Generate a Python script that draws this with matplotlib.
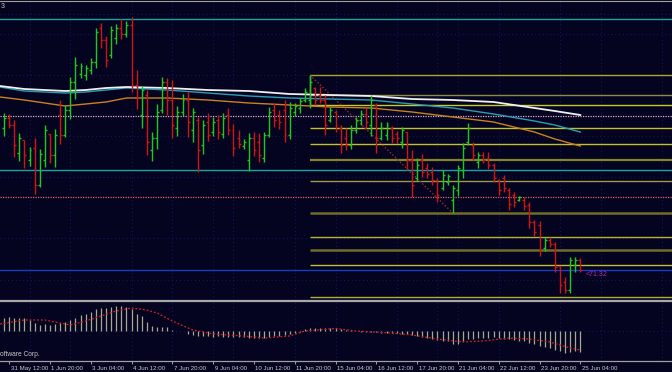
"""
H4 bar chart with moving averages, fibo levels and an oscillator window below.
"""

import matplotlib.pyplot as plt
from matplotlib.lines import Line2D
from matplotlib.transforms import ScaledTranslation

# ============================================================
# DATA (prices in chart points, bar index on x)
# ============================================================
OPEN = [272, 282, 275, 247, 260, 240, 252, 215, 240, 266,
        245, 285, 265, 290, 318, 326, 325, 330, 338, 372,
        360, 345, 362, 372, 366, 375, 315, 285, 305, 250,
        262, 290, 318, 300, 272, 288, 300, 270, 280, 255,
        278, 268, 280, 266, 285, 270, 262, 254, 240, 262,
        258, 242, 265, 290, 285, 290, 265, 288, 292, 300,
        300, 312, 305, 300, 280, 288, 272, 262, 255, 270,
        280, 286, 275, 295, 262, 265, 272, 266, 258, 268,
        240, 222, 240, 232, 228, 220, 212, 218, 200, 210,
        230, 258, 255, 238, 245, 242, 235, 220, 222, 210,
        205, 200, 200, 195, 178, 175, 152, 160, 156, 134,
        118, 110, 135, 140]
HIGH = [287, 286, 280, 267, 260, 253, 262, 251, 275, 266,
        271, 300, 295, 323, 343, 337, 335, 342, 372, 377,
        364, 374, 376, 381, 379, 383, 330, 314, 310, 268,
        296, 323, 322, 320, 294, 306, 308, 292, 283, 280,
        287, 283, 285, 287, 292, 276, 270, 261, 267, 268,
        267, 268, 293, 297, 290, 300, 298, 297, 302, 312,
        325, 313, 313, 305, 293, 290, 275, 272, 275, 283,
        290, 292, 305, 297, 278, 278, 274, 269, 273, 268,
        250, 242, 246, 237, 233, 222, 230, 226, 215, 235,
        257, 277, 258, 248, 248, 248, 237, 221, 225, 212,
        208, 204, 203, 198, 180, 179, 163, 163, 158, 134,
        123, 143, 143, 142]
LOW = [264, 272, 243, 239, 232, 234, 206, 213, 233, 237,
       233, 256, 263, 281, 301, 322, 320, 326, 332, 352,
       333, 342, 356, 361, 363, 308, 291, 272, 245, 239,
       251, 287, 285, 262, 264, 284, 263, 258, 228, 246,
       259, 264, 261, 262, 265, 244, 252, 251, 229, 244,
       238, 238, 263, 273, 271, 258, 261, 284, 287, 298,
       292, 295, 297, 265, 278, 268, 247, 250, 251, 267,
       275, 272, 264, 247, 260, 260, 257, 257, 252, 230,
       203, 219, 223, 222, 215, 198, 210, 215, 187, 204,
       222, 255, 240, 232, 237, 231, 218, 205, 208, 190,
       193, 199, 190, 172, 164, 144, 149, 153, 128, 107,
       107, 107, 128, 128]
CLOSE = [282, 275, 255, 262, 245, 250, 215, 246, 270, 245,
         265, 265, 290, 318, 335, 334, 332, 338, 368, 360,
         340, 370, 372, 366, 375, 315, 302, 310, 258, 262,
         288, 318, 300, 275, 288, 300, 278, 288, 250, 275,
         265, 278, 268, 282, 270, 252, 256, 258, 262, 250,
         245, 265, 288, 280, 278, 265, 292, 294, 299, 308,
         318, 300, 300, 275, 290, 275, 255, 255, 270, 280,
         286, 278, 300, 262, 272, 275, 262, 262, 270, 240,
         215, 235, 228, 226, 220, 205, 225, 224, 212, 232,
         252, 272, 245, 245, 240, 235, 222, 210, 212, 196,
         198, 203, 194, 178, 168, 150, 160, 156, 133, 115,
         110, 140, 140, 130]

# moving averages, read at a few bars
MA_X = [-0.8, 4, 8, 12, 16, 20, 24, 32, 40, 48, 56, 64, 72, 80, 88, 96, 104, 108, 113]
MA_WHITE = [314, 311, 310, 309, 310, 312, 313, 312, 310, 309, 306, 305, 304, 301, 300, 298, 292, 289, 285]
MA_CYAN = [313, 309, 308, 307, 308, 310, 312, 310, 307, 304, 302, 301, 300, 296, 292, 286, 279, 275, 268]
MA_ORANGE = [303, 300, 297, 294, 296, 298, 302, 302, 300, 297, 295, 293, 292, 288, 283, 278, 268, 261, 254]

# full width horizontal lines
LEVEL_TOP = 399.3
LEVEL_TEAL = [381.5, 230]
LEVEL_PINK_DOT = 284
LEVEL_RED_DOT = 203
LEVEL_BLUE = 130

# fibo tool: anchors and levels
FIB_J = [60, 88]
FIB_P = [325, 187]
FIB_LEVELS = [325, 305, 295, 272, 256, 240, 219, 187, 163, 150, 135, 103]

# oscillator
HIST = [13, 14, 12.6, 13, 13, 10.6, 8, 6.5, 7, 6.5,
        7, 8, 9, 11, 13, 16, 17, 19.5, 22, 23,
        23.5, 24, 25, 25, 24, 22, 17, 15, 9.5, 5,
        4.5, 4.5, 4.5, 1.5, 0.5, 0.5, -2.5, -4, -5, -5,
        -5, -6, -5, -6, -6, -6, -6, -6, -6.7, -7,
        -7, -7, -6, -5, -5, -4, -3, -2, -0.5, 2.5,
        3, 3, 3.5, 3, 3, 3, 2, 1.5, 1, 0.5,
        -0.5, -0.5, -1, -1, -1.5, -1.5, -2, -2, -2.5, -3,
        -3.5, -4.5, -6, -7, -8, -9, -10, -10, -13, -13,
        -10, -8, -8, -7, -7, -7, -6, -7, -8, -8,
        -9, -10, -10, -12, -13, -15, -16, -17, -19, -20,
        -22, -21, -20, -21]
SIG_X = [-0.8, 4, 8, 11, 13, 16, 19, 22, 25, 28, 30, 33, 37, 41, 47,
         51, 56, 59, 65, 69, 76, 80, 85, 90, 94, 99, 103, 107, 111, 113]
SIG_V = [7, 11, 11, 8, 6, 10, 15, 20, 23, 21, 18, 10, 1, -3, -5,
         -7, -5, 0, 2.5, 0, -2, -4, -8, -11, -10, -7, -8, -11, -17, -19]

TICK_J = [1, 9, 17, 25, 33, 41, 49, 57, 65, 73, 81, 89, 97, 105, 113]
TICK_LABELS = ["31 May 12:00", "1 Jun 20:00", "3 Jun 04:00", "4 Jun 12:00",
               "7 Jun 20:00", "9 Jun 04:00", "10 Jun 12:00", "11 Jun 20:00",
               "15 Jun 04:00", "16 Jun 12:00", "17 Jun 20:00", "21 Jun 04:00",
               "22 Jun 12:00", "23 Jun 20:00", "25 Jun 04:00"]

GRID_J = [5, 13, 25, 33, 41, 45, 57, 65, 77, 85, 89, 97, 109, 117, 129]
GRID_P = [386, 366, 325, 264, 223, 162, 120]

# ============================================================
# STYLE
# ============================================================
W, H = 672, 372
BG = "#040420"
GRID = "#1a2490"
UP = "#1ec81e"
DOWN = "#d01414"
TXT = "#c8c8c8"
BAR_PX = 5.1
XMIN = -4 / BAR_PX
XMAX = (W - 4) / BAR_PX

FIB_STYLE = [
    ("#a8a830", 1.0), ("#8c8c48", 1.0), ("#c8c830", 1.0), ("#c0c030", 1.0),
    ("#c0c030", 1.0), ("#84842a", 1.6), ("#9a9a48", 1.0), ("#6e6e28", 1.8),
    ("#b4b430", 1.0), ("#6e6e28", 1.8), ("#c0c030", 1.0), ("#b0b030", 1.0),
]

plt.rcParams["font.family"] = "Liberation Sans"


def fig_y(px):
    return 1 - px / H


def draw_grid(ax, hlevels):
    for j in GRID_J:
        ax.axvline(j, color=GRID, lw=0.55, ls=(0, (1, 4)), zorder=0)
    for p in hlevels:
        ax.axhline(p, color=GRID, lw=0.55, ls=(0, (1, 4)), zorder=0)


def main():
    fig = plt.figure(figsize=(W / 100, H / 100), dpi=100, facecolor=BG)

    # ---------------- price window ----------------
    ax = fig.add_axes([0, 1 - 300 / H, 1, 300 / H])
    ax.set_facecolor(BG)
    ax.set_xlim(XMIN, XMAX)
    ax.set_ylim(100, 400)
    ax.set_xticks([])
    ax.set_yticks([])
    for s in ax.spines.values():
        s.set_visible(False)

    draw_grid(ax, GRID_P)

    ax.axhline(LEVEL_TOP, color="#a0a0a0", lw=0.8, zorder=1)
    for p in LEVEL_TEAL:
        ax.axhline(p, color="#19a4a4", lw=1.0, zorder=1)
    ax.axhline(LEVEL_PINK_DOT, color="#e0a8d0", lw=0.9, ls=(0, (1, 1)), zorder=1)
    ax.axhline(LEVEL_RED_DOT, color="#e05c6c", lw=0.9, ls=(0, (1, 1)), zorder=1)
    ax.axhline(LEVEL_BLUE, color="#1a3cc0", lw=1.0, zorder=1)

    # fibo
    for p, (c, lw) in zip(FIB_LEVELS, FIB_STYLE):
        ax.hlines(p, FIB_J[0], XMAX, color=c, lw=lw, zorder=1)
    ax.vlines(FIB_J[0], FIB_LEVELS[2], FIB_LEVELS[0], color="#a8a830", lw=1.0, zorder=1)
    ax.plot(FIB_J, FIB_P, color="#a02828", lw=1.0, ls=(0, (1, 1.5)), zorder=2)

    # moving averages
    ax.plot(MA_X, MA_ORANGE, color="#c8821e", lw=1.0, zorder=3)
    ax.plot(MA_X, MA_CYAN, color="#2a9fb4", lw=1.0, zorder=3)
    ax.plot(MA_X, MA_WHITE, color="#f0f0f0", lw=1.3, zorder=4)

    # OHLC bars
    for j, (o, h, l, c) in enumerate(zip(OPEN, HIGH, LOW, CLOSE)):
        col = UP if c >= o else DOWN
        ax.vlines(j, l, h, color=col, lw=1.0, zorder=5)
        ax.hlines(o, j - 0.38, j, color=col, lw=1.0, zorder=5)
        ax.hlines(c, j, j + 0.38, color=col, lw=1.0, zorder=5)

    # ---------------- oscillator window ----------------
    ax2 = fig.add_axes([0, 1 - 361 / H, 1, 58 / H])
    ax2.set_facecolor(BG)
    ax2.set_xlim(XMIN, XMAX)
    ax2.set_ylim(-30, 28)
    for s in ["top", "left", "right"]:
        ax2.spines[s].set_visible(False)
    ax2.spines["bottom"].set_color("#a0a0a0")
    ax2.spines["bottom"].set_linewidth(0.9)
    ax2.set_yticks([])

    draw_grid(ax2, [0])
    ax2.vlines(range(len(HIST)), 0, HIST, color="#a8a890", lw=0.9, zorder=3)
    ax2.plot(SIG_X, SIG_V, color="#d02020", lw=0.9, ls=(0, (1.5, 1.5)), zorder=4)

    ax2.set_xticks(TICK_J)
    ax2.set_xticklabels(TICK_LABELS, ha="left", fontsize=4.4, color=TXT)
    ax2.tick_params(axis="x", direction="out", length=2.5, width=0.7,
                    color="#a0a0a0", pad=0.8)
    shift = ScaledTranslation(1.5 / 100, 0, fig.dpi_scale_trans)
    for lab in ax2.get_xticklabels():
        lab.set_transform(lab.get_transform() + shift)

    # separator between windows
    fig.add_artist(Line2D([0, 1], [fig_y(301.3), fig_y(301.3)], color="#a8a8a8",
                          lw=1.6, transform=fig.transFigure))

    # texts
    fig.text(0.5 / W, fig_y(6), "3", color=TXT, fontsize=5, ha="left", va="center")
    fig.text(586 / W, fig_y(274), "<71.32", color="#c020c0", fontsize=5,
             ha="left", va="center")
    fig.text(0.5 / W, fig_y(355), "oftware Corp.", color=TXT, fontsize=4.8,
             ha="left", va="center")

    fig.savefig("out.png", dpi=100, facecolor=BG)
    plt.close(fig)


if __name__ == "__main__":
    main()
